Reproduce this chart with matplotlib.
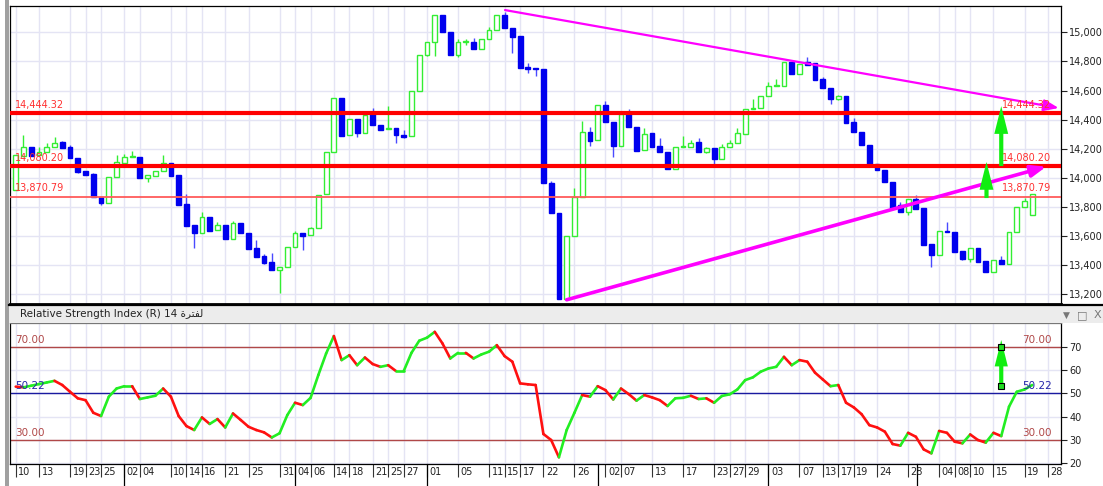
import numpy as np
import matplotlib
matplotlib.use("Agg")
import matplotlib.pyplot as plt
from matplotlib.collections import LineCollection
from matplotlib.patches import Rectangle
from matplotlib.lines import Line2D
import matplotlib.transforms as mtrans

# =====================================================
# DATA
# =====================================================

opens = [13917, 14153, 14215, 14157, 14180, 14210, 14244, 14210, 14134, 14047,
         14027, 13871, 13830, 14004, 14104, 14143, 14146, 13997, 14013, 14047,
         14100, 14020, 13821, 13674, 13624, 13729, 13640, 13674, 13578, 13692,
         13624, 13516, 13463, 13424, 13367, 13390, 13528, 13619, 13608, 13658,
         13887, 14180, 14547, 14295, 14402, 14311, 14444, 14363, 14338, 14340,
         14295, 14288, 14599, 14842, 14934, 15119, 15000, 14844, 14931, 14934,
         14888, 14956, 15016, 15117, 15027, 14975, 14760, 14753, 14746, 13967,
         13757, 13168, 13601, 13867, 14318, 14258, 14501, 14386, 14219, 14439,
         14350, 14190, 14306, 14221, 14180, 14059, 14212, 14212, 14244, 14178,
         14203, 14128, 14210, 14242, 14302, 14475, 14478, 14563, 14629, 14631,
         14798, 14714, 14798, 14787, 14679, 14615, 14544, 14563, 14382, 14318,
         14228, 14095, 14054, 13974, 13814, 13763, 13855, 13791, 13544, 13470,
         13637, 13631, 13500, 13440, 13516, 13431, 13356, 13436, 13406, 13626,
         13798, 13745]
highs = [14157, 14295, 14215, 14215, 14237, 14279, 14250, 14224, 14134, 14047,
         14030, 13871, 14008, 14157, 14164, 14187, 14146, 14020, 14047, 14157,
         14100, 14020, 13889, 13674, 13768, 13729, 13699, 13674, 13706, 13692,
         13624, 13573, 13475, 13482, 13390, 13528, 13637, 13619, 13665, 13885,
         14180, 14547, 14547, 14402, 14402, 14432, 14478, 14363, 14494, 14340,
         14329, 14599, 14842, 14934, 15119, 15119, 15000, 14952, 14952, 14963,
         14956, 15039, 15117, 15142, 15027, 14975, 14787, 14753, 14746, 13981,
         13757, 13601, 13928, 14391, 14352, 14501, 14531, 14386, 14437, 14473,
         14350, 14340, 14306, 14272, 14180, 14215, 14288, 14260, 14276, 14212,
         14203, 14233, 14260, 14345, 14473, 14540, 14563, 14661, 14677, 14798,
         14798, 14782, 14833, 14787, 14695, 14615, 14570, 14563, 14409, 14318,
         14228, 14095, 14054, 13974, 13837, 13855, 13882, 13791, 13544, 13637,
         13699, 13631, 13500, 13516, 13520, 13431, 13436, 13463, 13626, 13798,
         13860, 13887]
lows = [13917, 14153, 14153, 14157, 14180, 14210, 14203, 14134, 14030, 14020,
        13871, 13814, 13830, 14004, 14104, 14141, 13997, 13974, 14013, 14047,
        14013, 13814, 13670, 13516, 13624, 13637, 13640, 13578, 13578, 13619,
        13509, 13459, 13406, 13367, 13212, 13390, 13528, 13505, 13608, 13658,
        13887, 14180, 14290, 14295, 14279, 14311, 14363, 14329, 14338, 14242,
        14272, 14288, 14599, 14837, 14837, 15000, 14844, 14828, 14912, 14888,
        14888, 14956, 15016, 15027, 14856, 14757, 14723, 14700, 13963, 13757,
        13168, 13168, 13601, 13867, 14221, 14258, 14386, 14141, 14219, 14347,
        14185, 14190, 14215, 14180, 14059, 14059, 14212, 14212, 14178, 14170,
        14095, 14128, 14210, 14242, 14302, 14475, 14478, 14563, 14629, 14631,
        14714, 14714, 14776, 14673, 14615, 14505, 14535, 14379, 14318, 14226,
        14095, 14054, 13974, 13791, 13763, 13745, 13784, 13539, 13390, 13470,
        13626, 13493, 13435, 13425, 13424, 13350, 13356, 13406, 13406, 13626,
        13798, 13745]
closes = [14157, 14215, 14153, 14180, 14215, 14242, 14203, 14134, 14043, 14020,
          13871, 13830, 14008, 14107, 14141, 14146, 13997, 14020, 14047, 14100,
          14013, 13814, 13670, 13624, 13729, 13637, 13674, 13578, 13692, 13619,
          13509, 13459, 13413, 13367, 13390, 13528, 13619, 13603, 13658, 13885,
          14180, 14547, 14290, 14402, 14311, 14432, 14363, 14329, 14340, 14295,
          14283, 14599, 14842, 14934, 15119, 15000, 14844, 14934, 14934, 14888,
          14956, 15016, 15117, 15027, 14970, 14757, 14750, 14746, 13963, 13757,
          13168, 13601, 13867, 14318, 14256, 14501, 14386, 14219, 14437, 14347,
          14185, 14302, 14215, 14180, 14059, 14215, 14215, 14242, 14178, 14203,
          14128, 14215, 14242, 14306, 14473, 14478, 14563, 14631, 14633, 14798,
          14714, 14782, 14776, 14673, 14615, 14542, 14563, 14379, 14318, 14226,
          14095, 14054, 13974, 13791, 13763, 13855, 13784, 13539, 13470, 13637,
          13626, 13493, 13440, 13516, 13424, 13356, 13436, 13406, 13626, 13798,
          13844, 13887]

rsi = [52.9, 52.6, 53.3, 54.0, 54.7, 55.4, 53.6, 50.7, 47.9, 47.1,
       41.7, 40.3, 48.6, 52.1, 53.1, 53.1, 47.6, 48.3, 49.0, 52.1,
       48.6, 40.3, 36.0, 34.3, 39.7, 36.9, 39.0, 35.4, 41.4, 38.6,
       35.7, 34.3, 33.3, 31.1, 32.9, 40.7, 46.0, 45.0, 48.1, 57.9,
       67.1, 74.6, 64.3, 66.4, 62.1, 65.4, 62.6, 61.4, 62.1, 59.6,
       59.6, 67.4, 72.6, 73.9, 76.4, 71.4, 65.0, 67.4, 67.4, 65.0,
       66.7, 67.9, 70.7, 66.0, 63.6, 54.3, 53.9, 53.6, 32.6, 30.0,
       22.6, 34.3, 41.7, 49.3, 48.6, 53.1, 51.4, 47.4, 52.1, 49.7,
       46.9, 49.3, 48.3, 47.1, 44.6, 47.9, 48.1, 49.0, 47.6, 47.9,
       46.0, 48.9, 49.6, 51.7, 55.7, 56.9, 59.3, 60.7, 61.4, 65.7,
       62.1, 64.3, 63.6, 58.9, 56.0, 53.1, 53.6, 46.0, 44.0, 41.1,
       36.4, 35.4, 33.6, 28.3, 27.6, 33.1, 31.4, 26.0, 24.3, 33.9,
       33.1, 29.3, 28.6, 32.4, 30.0, 28.9, 33.1, 31.7, 44.3, 50.7,
       51.7, 53.6]

day_labels = ["10", "13", "19", "23", "25", "02", "04", "10", "14", "16",
              "21", "25", "31", "04", "06", "14", "18", "21", "25", "27",
              "01", "05", "11", "15", "17", "22", "26", "02", "07", "13",
              "17", "23", "27", "29", "03", "07", "13", "17", "19", "24",
              "28", "04", "08", "10", "15", "19", "28"]
day_index = [0, 3, 7, 9, 11, 14, 16, 20, 22, 24,
             27, 30, 34, 36, 38, 41, 43, 46, 48, 50,
             53, 57, 61, 63, 65, 68, 72, 76, 78, 82,
             86, 90, 92, 94, 97, 101, 104, 106, 108, 111,
             115, 119, 121, 123, 126, 130, 133]
month_index = [14, 36, 53, 75.1, 97, 116.2]

price_ticks = [13200, 13400, 13600, 13800, 14000, 14200, 14400, 14600, 14800, 15000]
rsi_ticks = [20, 30, 40, 50, 60, 70]

levels = [14444.32, 14080.20, 13870.79]
level_labels = ["14,444.32", "14,080.20", "13,870.79"]

rsi_levels = [70.00, 50.22, 30.00]
rsi_level_labels = ["70.00", "50.22", "30.00"]

# trend lines (candle index, price)
trend_upper = [(63.05, 15153), (134.4, 14480)]
trend_lower = [(71.0, 13162), (132.8, 14077)]

# green target arrows (candle index, from, to)
arrow_x = [125.1, 127.0]
arrow_from = [13861, 14081]
arrow_to = [14109, 14493]
rsi_arrow = (127.0, 53.1, 72.9)

title = "Relative Strength Index (R) 14 " + "\uFE93\uFEAE\uFE98\uFED4\uFEDF"

# =====================================================
# FIGURE
# =====================================================

plt.rcParams['font.family'] = ['Liberation Sans Narrow', 'DejaVu Sans']

W, H = 1103, 486
fig = plt.figure(figsize=(W / 100, H / 100), dpi=100)
fig.patch.set_facecolor("white")


def frame(x0, y0, x1, y1):
    return [x0 / W, 1 - y1 / H, (x1 - x0) / W, (y1 - y0) / H]


ax = fig.add_axes(frame(10, 5.7, 1061, 304))
ax2 = fig.add_axes(frame(10, 323, 1061, 463.5))

grid_c = "#e4e4f4"
x = np.arange(len(opens))
o = np.array(opens, float)
h = np.array(highs, float)
l = np.array(lows, float)
c = np.array(closes, float)
up = c >= o

xlim = (-0.735, 134.7)

# ---------------- main panel ----------------
ax.set_xlim(*xlim)
ax.set_ylim(13133, 15183)
ax.set_xticks(day_index)
ax.set_xticklabels([])
ax.tick_params(axis='x', length=0)
ax.yaxis.tick_right()
ax.set_yticks(price_ticks)
ax.set_yticklabels([f"{v:,}" for v in price_ticks])
ax.tick_params(axis='y', length=4, width=0.8, labelsize=7, colors='#222222', pad=2)
ax.grid(True, color=grid_c, lw=1, zorder=0)
ax.set_axisbelow(True)
for s in ax.spines.values():
    s.set_color("black")
    s.set_linewidth(0.9)
ax.spines['bottom'].set_linewidth(2)

# wicks
ax.vlines(x[up], l[up], h[up], colors='#33ee33', lw=1, zorder=2)
ax.vlines(x[~up], l[~up], h[~up], colors='#4a4aff', lw=1, zorder=2)
# bodies
body = np.maximum(np.abs(c - o), 6)
ax.bar(x[up], body[up], bottom=o[up], width=0.62, facecolor='white',
       edgecolor='#33ee33', lw=1, zorder=3)
ax.bar(x[~up], body[~up], bottom=np.minimum(o, c)[~up], width=0.62,
       facecolor='#0000ee', edgecolor='#0000ee', lw=1, zorder=3)

# support / resistance levels
ax.axhline(levels[0], color='#ff0000', lw=3, zorder=4)
ax.axhline(levels[1], color='#ff0000', lw=3, zorder=4)
ax.axhline(levels[2], color='#ff5a5a', lw=1.3, zorder=4)
for lv, lab in zip(levels, level_labels):
    ax.annotate(lab, xy=(0.005, lv), xycoords=('axes fraction', 'data'),
                xytext=(0, 2.5), textcoords='offset points', ha='left', va='bottom',
                fontsize=7, color='#ff3030', zorder=6)
    ax.annotate(lab, xy=(0.991, lv), xycoords=('axes fraction', 'data'),
                xytext=(0, 2.5), textcoords='offset points', ha='right', va='bottom',
                fontsize=7, color='#ff3030', zorder=6)

# trend lines
ax.annotate('', xy=trend_upper[1], xytext=trend_upper[0],
            arrowprops=dict(arrowstyle='-|>,head_length=0.9,head_width=0.35',
                            color='#ff00ff', lw=1.6, shrinkA=0, shrinkB=0),
            annotation_clip=False, zorder=5)
ax.annotate('', xy=trend_lower[1], xytext=trend_lower[0],
            arrowprops=dict(arrowstyle='-|>,head_length=0.9,head_width=0.35',
                            color='#ff00ff', lw=2.6, shrinkA=0, shrinkB=0),
            annotation_clip=False, zorder=5)

# green arrows
for ax_x, y0, y1 in zip(arrow_x, arrow_from, arrow_to):
    ax.annotate('', xy=(ax_x, y1), xytext=(ax_x, y0),
                arrowprops=dict(arrowstyle='simple,head_length=2.0,head_width=1.0,tail_width=0.3',
                                mutation_scale=10, fc='#11ee11', ec='none',
                                shrinkA=0, shrinkB=0), zorder=6)

# ---------------- RSI panel ----------------
ax2.set_xlim(*xlim)
ax2.set_ylim(19.94, 80.2)
ax2.yaxis.tick_right()
ax2.set_yticks(rsi_ticks)
ax2.tick_params(axis='y', length=4, width=0.8, labelsize=7, colors='#222222', pad=2)
ax2.set_xticks(day_index)
ax2.set_xticklabels([])
ax2.tick_params(axis='x', length=9.5, width=0.8, colors='#333333', direction='out')
ax2.grid(True, color=grid_c, lw=1, zorder=0)
ax2.set_axisbelow(True)
for s in ax2.spines.values():
    s.set_color("black")
    s.set_linewidth(0.9)
ax2.spines['top'].set_color('#777777')

for lab, xi in zip(day_labels, day_index):
    ax2.annotate(lab, xy=(xi, 0), xycoords=('data', 'axes fraction'),
                 xytext=(1.8, -2.2), textcoords='offset points', ha='left', va='top',
                 fontsize=7, color='#222222', annotation_clip=False)

blend = mtrans.blended_transform_factory(ax2.transData, ax2.transAxes)
for mi in month_index:
    ax2.add_line(Line2D([mi, mi], [0, -0.175], transform=blend, color='black',
                        lw=0.9, clip_on=False))

ax2.axhline(rsi_levels[0], color='#b04848', lw=1, zorder=2)
ax2.axhline(rsi_levels[2], color='#b04848', lw=1, zorder=2)
ax2.axhline(50, color='#1a1aa0', lw=1, zorder=2)
label_cols = ['#b04848', '#2424a8', '#b04848']
for lv, lab, col in zip(rsi_levels, rsi_level_labels, label_cols):
    ax2.annotate(lab, xy=(0.005, lv), xycoords=('axes fraction', 'data'),
                 xytext=(0, 1.5), textcoords='offset points', ha='left', va='bottom',
                 fontsize=7.5, color=col, zorder=6)
    ax2.annotate(lab, xy=(0.991, lv), xycoords=('axes fraction', 'data'),
                 xytext=(0, 1.5), textcoords='offset points', ha='right', va='bottom',
                 fontsize=7.5, color=col, zorder=6)

r = np.array(rsi)
pts = np.column_stack([x, r])
segs = np.stack([pts[:-1], pts[1:]], axis=1)
cols = ['#22ee22' if r[i + 1] >= r[i] else '#ff1010' for i in range(len(r) - 1)]
ax2.add_collection(LineCollection(segs, colors=cols, lw=1.9, zorder=4,
                                  capstyle='round', joinstyle='round'))

rx, r0, r1 = rsi_arrow
ax2.annotate('', xy=(rx, r1), xytext=(rx, r0),
             arrowprops=dict(arrowstyle='simple,head_length=1.9,head_width=0.95,tail_width=0.3',
                             mutation_scale=10, fc='#11ee11', ec='none',
                             shrinkA=0, shrinkB=0), zorder=6)
ax2.plot([rx, rx], [r0, rsi_levels[0]], ls='none', marker='s', ms=4,
         mfc='#22dd22', mec='black', mew=0.8, zorder=7)

# ---------------- frame decorations ----------------
fig.patches.append(Rectangle((9 / W, 1 - 323 / H), 1 - 9 / W, 18 / H,
                             transform=fig.transFigure, facecolor='#ececec',
                             edgecolor='none', zorder=0))
fig.lines.append(Line2D([9 / W, 1], [1 - 304.5 / H] * 2, transform=fig.transFigure,
                        color='black', lw=1.6))
fig.patches.append(Rectangle((5 / W, 0), 4 / W, 1, transform=fig.transFigure,
                             facecolor='#a0a0a0', edgecolor='none'))
fig.text(20 / W, 1 - 314 / H, title, fontsize=7.5, color='#222222', va='center', ha='left')
fig.text(1066 / W, 1 - 315 / H, "\u25BC", fontsize=6.5, color='#777777', va='center', ha='center')
fig.text(1082 / W, 1 - 315 / H, "\u25A1", fontsize=8, color='#777777', va='center', ha='center')
fig.text(1097 / W, 1 - 315 / H, "X", fontsize=8, color='#777777', va='center', ha='center')

plt.savefig("out.png", dpi=100)
